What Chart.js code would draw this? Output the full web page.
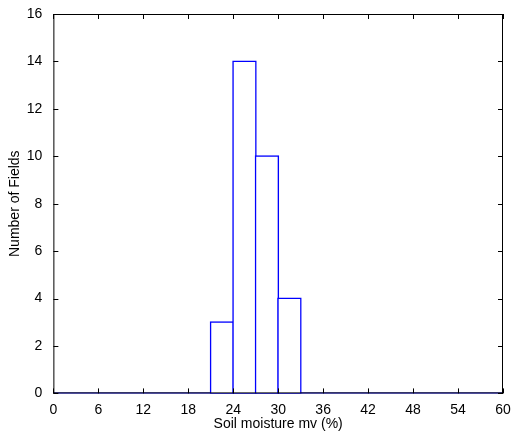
<!DOCTYPE html>
<html>
<head>
<script src="https://cdn.jsdelivr.net/npm/chart.js@4"></script>
<style>
html, body { margin: 0; padding: 0; background: #fff; }
#wrap { width: 511px; height: 435px; }
</style>
</head>
<body>
<div id="wrap"><canvas id="myChart"></canvas></div>
<script>
// histogram bins (centres, width 3) and counts
const binCenters = [22.5, 25.5, 28.5, 31.5];
const counts = [3, 14, 10, 4];
const xTicks = [0, 6, 12, 18, 24, 30, 36, 42, 48, 54, 60];
const yTicks = [0, 2, 4, 6, 8, 10, 12, 14, 16];

const blue = '#0000ff';

// MATLAB style box with inward ticks
const boxTicks = {
    id: 'box_ticks',
    afterDraw: (chart) => {
        const c = chart.ctx;
        const a = chart.chartArea;
        const xs = chart.scales.x, ys = chart.scales.y;
        c.save();
        c.strokeStyle = '#000';
        c.lineWidth = 1;
        c.strokeRect(a.left + 0.5, a.top + 0.5, a.right - a.left - 1, a.bottom - a.top - 1);
        c.beginPath();
        xTicks.forEach(v => {
            const px = Math.round(xs.getPixelForValue(v)) + 0.5;
            c.moveTo(px, a.bottom); c.lineTo(px, a.bottom - 5);
            c.moveTo(px, a.top); c.lineTo(px, a.top + 5);
        });
        yTicks.forEach(v => {
            const py = Math.round(ys.getPixelForValue(v)) + 0.5;
            c.moveTo(a.left, py); c.lineTo(a.left + 5, py);
            c.moveTo(a.right, py); c.lineTo(a.right - 5, py);
        });
        c.stroke();
        c.restore();
    }
};

new Chart(document.getElementById('myChart'), {
    type: 'bar',
    data: {
        datasets: [{
            label: 'Fields',
            data: binCenters.map((x, i) => ({ x: x, y: counts[i] })),
            backgroundColor: '#fff',
            borderColor: blue,
            borderWidth: 1.5,
            borderSkipped: false,
            inflateAmount: 1,
            barPercentage: 1,
            categoryPercentage: 1
        }, {
            type: 'line',
            label: 'base',
            data: [{ x: 0, y: 0 }, { x: 60, y: 0 }],
            borderColor: blue,
            borderWidth: 2,
            pointRadius: 0
        }]
    },
    options: {
        responsive: true,
        maintainAspectRatio: false,
        animation: false,
        layout: { padding: { top: 14, right: 8, left: 3, bottom: 2 } },
        plugins: { legend: { display: false }, tooltip: { enabled: false } },
        scales: {
            x: {
                type: 'linear', min: 0, max: 60, offset: false,
                afterBuildTicks: (s) => { s.ticks = xTicks.map(v => ({ value: v })); },
                grid: { display: false },
                border: { display: false },
                ticks: { color: '#000', font: { family: 'Liberation Sans', size: 14 }, maxRotation: 0, padding: 0 },
                title: { display: true, text: 'Soil moisture mv (%)', color: '#000', font: { family: 'Liberation Sans', size: 14 }, padding: { top: -2, bottom: 0 } }
            },
            y: {
                min: 0, max: 16,
                afterBuildTicks: (s) => { s.ticks = yTicks.map(v => ({ value: v })); },
                grid: { display: false },
                border: { display: false },
                ticks: { color: '#000', font: { family: 'Liberation Sans', size: 14 }, padding: 3 },
                title: { display: true, text: 'Number of Fields', color: '#000', font: { family: 'Liberation Sans', size: 14 }, padding: { bottom: 0 } }
            }
        }
    },
    plugins: [boxTicks]
});
</script>
</body>
</html>
